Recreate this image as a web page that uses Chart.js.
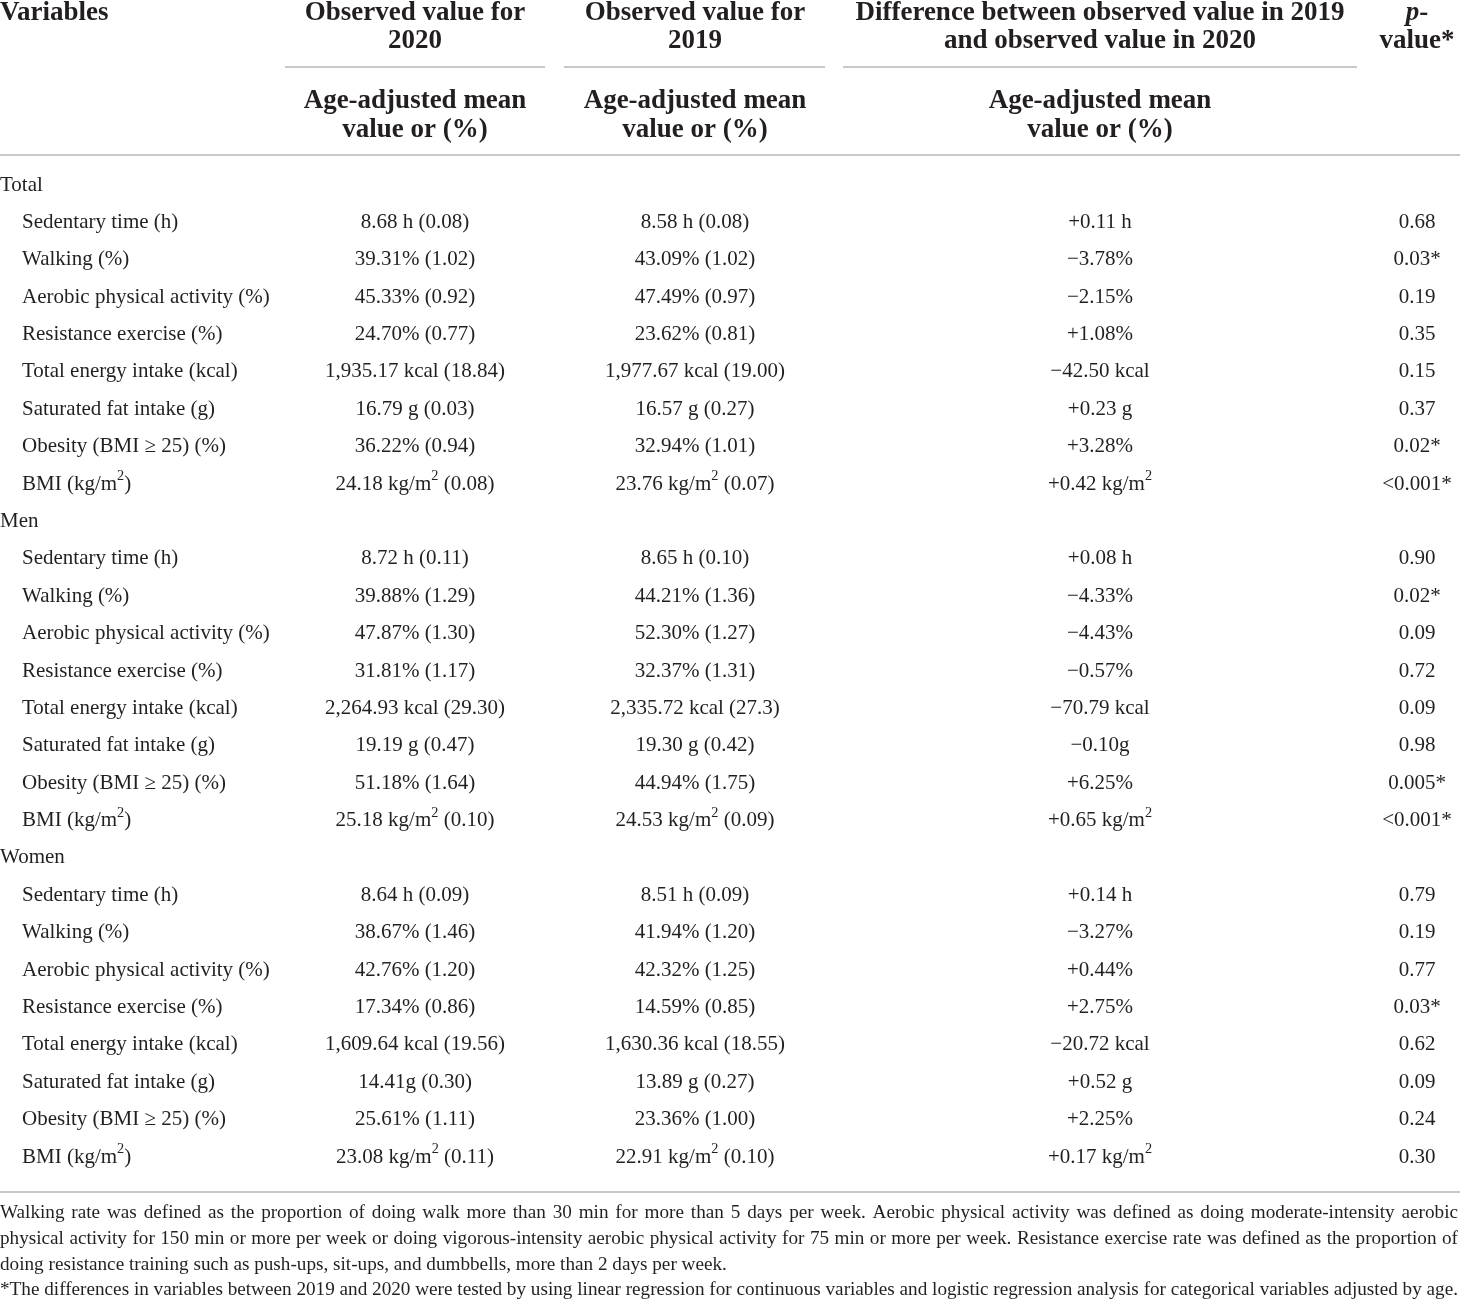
<!DOCTYPE html>
<html>
<head>
<meta charset="utf-8">
<script src="https://cdn.jsdelivr.net/npm/chart.js@4.4.1/dist/chart.umd.min.js"></script>
<style>
  html, body { margin: 0; padding: 0; background: #fff; }
  #wrap { width: 1460px; height: 1302px; }
</style>
</head>
<body>
<div id="wrap"><canvas id="tableChart"></canvas></div>
<script>
// table content
const groups = ['Total', 'Men', 'Women'];
const variables = ['Sedentary time (h)', 'Walking (%)', 'Aerobic physical activity (%)', 'Resistance exercise (%)',
  'Total energy intake (kcal)', 'Saturated fat intake (g)', 'Obesity (BMI \u2265 25) (%)', 'BMI (kg/m\u00b2)'];

const obs2020 = [
  '8.68 h (0.08)', '39.31% (1.02)', '45.33% (0.92)', '24.70% (0.77)', '1,935.17 kcal (18.84)', '16.79 g (0.03)', '36.22% (0.94)', '24.18 kg/m\u00b2 (0.08)',
  '8.72 h (0.11)', '39.88% (1.29)', '47.87% (1.30)', '31.81% (1.17)', '2,264.93 kcal (29.30)', '19.19 g (0.47)', '51.18% (1.64)', '25.18 kg/m\u00b2 (0.10)',
  '8.64 h (0.09)', '38.67% (1.46)', '42.76% (1.20)', '17.34% (0.86)', '1,609.64 kcal (19.56)', '14.41g (0.30)', '25.61% (1.11)', '23.08 kg/m\u00b2 (0.11)'
];
const obs2019 = [
  '8.58 h (0.08)', '43.09% (1.02)', '47.49% (0.97)', '23.62% (0.81)', '1,977.67 kcal (19.00)', '16.57 g (0.27)', '32.94% (1.01)', '23.76 kg/m\u00b2 (0.07)',
  '8.65 h (0.10)', '44.21% (1.36)', '52.30% (1.27)', '32.37% (1.31)', '2,335.72 kcal (27.3)', '19.30 g (0.42)', '44.94% (1.75)', '24.53 kg/m\u00b2 (0.09)',
  '8.51 h (0.09)', '41.94% (1.20)', '42.32% (1.25)', '14.59% (0.85)', '1,630.36 kcal (18.55)', '13.89 g (0.27)', '23.36% (1.00)', '22.91 kg/m\u00b2 (0.10)'
];
const diffs = [
  '+0.11 h', '\u22123.78%', '\u22122.15%', '+1.08%', '\u221242.50 kcal', '+0.23 g', '+3.28%', '+0.42 kg/m\u00b2',
  '+0.08 h', '\u22124.33%', '\u22124.43%', '\u22120.57%', '\u221270.79 kcal', '\u22120.10g', '+6.25%', '+0.65 kg/m\u00b2',
  '+0.14 h', '\u22123.27%', '+0.44%', '+2.75%', '\u221220.72 kcal', '+0.52 g', '+2.25%', '+0.17 kg/m\u00b2'
];
const pValues = [
  '0.68', '0.03*', '0.19', '0.35', '0.15', '0.37', '0.02*', '<0.001*',
  '0.90', '0.02*', '0.09', '0.72', '0.09', '0.98', '0.005*', '<0.001*',
  '0.79', '0.19', '0.77', '0.03*', '0.62', '0.09', '0.24', '0.30'
];

const footnotes = [
  'Walking rate was defined as the proportion of doing walk more than 30 min for more than 5 days per week. Aerobic physical activity was defined as doing moderate-intensity aerobic',
  'physical activity for 150 min or more per week or doing vigorous-intensity aerobic physical activity for 75 min or more per week. Resistance exercise rate was defined as the proportion of',
  'doing resistance training such as push-ups, sit-ups, and dumbbells, more than 2 days per week.',
  '*The differences in variables between 2019 and 2020 were tested by using linear regression for continuous variables and logistic regression analysis for categorical variables adjusted by age.'
];

// build rows
const rows = [];
groups.forEach((g, gi) => {
  rows.push({ label: g, group: true });
  variables.forEach((v, vi) => {
    const k = gi * variables.length + vi;
    rows.push({ label: v, cells: [obs2020[k], obs2019[k], diffs[k], pValues[k]] });
  });
});

const FONT = '"Liberation Serif", "Times New Roman", serif';
const INK = '#231f20';
const RULE = '#c8c8c8';
const colX = [415, 695, 1100, 1417];

// text with superscript ²
function drawRich(ctx, text, x, y, align, size, weight) {
  const parts = text.split('\u00b2');
  const segs = [];
  parts.forEach((p, i) => {
    if (p) segs.push({ t: p, sup: false });
    if (i < parts.length - 1) segs.push({ t: '2', sup: true });
  });
  const fn = s => (weight || '') + ' ' + s + 'px ' + FONT;
  let total = 0;
  segs.forEach(s => {
    ctx.font = fn(s.sup ? size * 0.68 : size);
    s.w = ctx.measureText(s.t).width;
    total += s.w;
  });
  let cx = align === 'center' ? x - total / 2 : (align === 'right' ? x - total : x);
  ctx.textAlign = 'left';
  ctx.textBaseline = 'middle';
  segs.forEach(s => {
    ctx.font = fn(s.sup ? size * 0.68 : size);
    ctx.fillText(s.t, cx, s.sup ? y - size * 0.36 : y);
    cx += s.w;
  });
}

function hline(ctx, x1, x2, y) {
  ctx.beginPath();
  ctx.moveTo(x1, y);
  ctx.lineTo(x2, y);
  ctx.stroke();
}

const tablePlugin = {
  id: 'tablePlugin',
  afterDraw(chart) {
    const ctx = chart.ctx;
    const xs = chart.scales.x;
    const ys = chart.scales.y;
    ctx.save();
    ctx.fillStyle = INK;

    // header
    const H = 27;
    drawRich(ctx, 'Variables', xs.getPixelForValue(0), 13, 'left', H, 'bold');
    drawRich(ctx, 'Observed value for', xs.getPixelForValue(colX[0]), 13, 'center', H, 'bold');
    drawRich(ctx, '2020', xs.getPixelForValue(colX[0]), 41, 'center', H, 'bold');
    drawRich(ctx, 'Observed value for', xs.getPixelForValue(colX[1]), 13, 'center', H, 'bold');
    drawRich(ctx, '2019', xs.getPixelForValue(colX[1]), 41, 'center', H, 'bold');
    drawRich(ctx, 'Difference between observed value in 2019', xs.getPixelForValue(colX[2]), 13, 'center', H, 'bold');
    drawRich(ctx, 'and observed value in 2020', xs.getPixelForValue(colX[2]), 41, 'center', H, 'bold');
    // p-value header, italic p
    ctx.font = 'italic bold ' + H + 'px ' + FONT;
    const pw = ctx.measureText('p').width;
    ctx.font = 'bold ' + H + 'px ' + FONT;
    const dw = ctx.measureText('-').width;
    const px0 = xs.getPixelForValue(colX[3]) - (pw + dw) / 2;
    ctx.textAlign = 'left';
    ctx.textBaseline = 'middle';
    ctx.font = 'italic bold ' + H + 'px ' + FONT;
    ctx.fillText('p', px0, 13);
    ctx.font = 'bold ' + H + 'px ' + FONT;
    ctx.fillText('-', px0 + pw, 13);
    drawRich(ctx, 'value*', xs.getPixelForValue(colX[3]), 41, 'center', H, 'bold');
    for (let c = 0; c < 3; c++) {
      drawRich(ctx, 'Age-adjusted mean', xs.getPixelForValue(colX[c]), 101, 'center', H, 'bold');
      drawRich(ctx, 'value or (%)', xs.getPixelForValue(colX[c]), 130, 'center', H, 'bold');
    }

    // rules
    ctx.strokeStyle = RULE;
    ctx.lineWidth = 2;
    hline(ctx, 285, 545, 67);
    hline(ctx, 564, 825, 67);
    hline(ctx, 843, 1357, 67);
    hline(ctx, 0, 1460, 155);
    hline(ctx, 0, 1460, 1192);

    // body rows
    const B = 21;
    rows.forEach((r, i) => {
      const y = ys.getPixelForValue(i);
      if (r.group) {
        drawRich(ctx, r.label, xs.getPixelForValue(0), y, 'left', B);
      } else {
        drawRich(ctx, r.label, xs.getPixelForValue(22), y, 'left', B);
        r.cells.forEach((t, c) => drawRich(ctx, t, xs.getPixelForValue(colX[c]), y, 'center', B));
      }
    });

    // footnotes
    const F = 19.2;
    ctx.font = F + 'px ' + FONT;
    ctx.textAlign = 'left';
    ctx.textBaseline = 'middle';
    const fy = [1213, 1239, 1264.5, 1290];
    const fullW = 1458;
    footnotes.forEach((line, i) => {
      const words = line.split(' ');
      if (i < 2) {
        const ws = words.map(w => ctx.measureText(w).width);
        const sum = ws.reduce((a, b) => a + b, 0);
        const gap = (fullW - sum) / (words.length - 1);
        let x = 0;
        words.forEach((w, j) => { ctx.fillText(w, x, fy[i]); x += ws[j] + gap; });
      } else {
        ctx.fillText(line, 0, fy[i], fullW);
      }
    });
    ctx.restore();
  }
};

const rowKeys = rows.map((r, i) => i + ':' + r.label);
const rowPoints = rows.map((r, i) => ({ x: 0, y: rowKeys[i] }));

new Chart(document.getElementById('tableChart'), {
  type: 'scatter',
  data: {
    labels: rowKeys,
    datasets: [{ data: rowPoints, pointRadius: 0, pointHoverRadius: 0, showLine: false }]
  },
  options: {
    responsive: true,
    maintainAspectRatio: false,
    animation: false,
    devicePixelRatio: 1,
    layout: { padding: { top: 166.3, bottom: 126.3, left: 0, right: 0 } },
    plugins: { legend: { display: false }, tooltip: { enabled: false } },
    events: [],
    scales: {
      x: { type: 'linear', min: 0, max: 1460, display: false },
      y: { type: 'category', labels: rowKeys, offset: true, display: false }
    }
  },
  plugins: [tablePlugin]
});
</script>
</body>
</html>
